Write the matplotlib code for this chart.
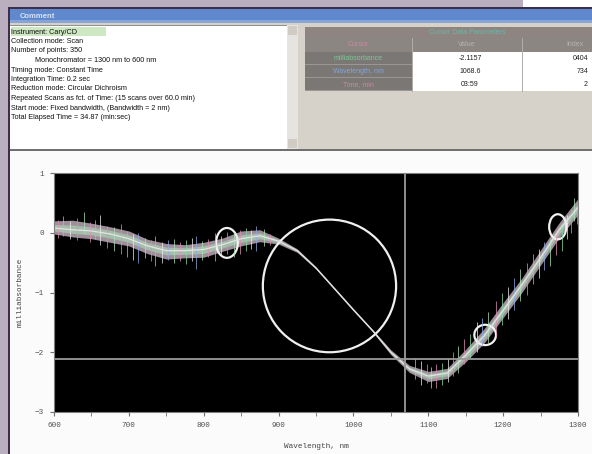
import matplotlib
matplotlib.use("Agg")
import matplotlib.pyplot as plt
from matplotlib.patches import Rectangle, Ellipse

# scan data (milliabsorbance vs wavelength)
wl = [600, 625, 650, 675, 700, 725, 750, 775, 800, 825, 850, 875, 900, 925,
      950, 975, 1000, 1025, 1050, 1075, 1100, 1125, 1150, 1175, 1200, 1225,
      1250, 1275, 1300]
mean = [0.08, 0.05, 0.03, -0.02, -0.1, -0.22, -0.3, -0.3, -0.28, -0.2, -0.1,
        -0.05, -0.14, -0.3, -0.59, -0.94, -1.29, -1.63, -2.0, -2.28, -2.4,
        -2.35, -2.05, -1.72, -1.3, -0.87, -0.42, 0.05, 0.42]
spread_up = [0.12, 0.16, 0.13, 0.12, 0.13, 0.11, 0.12, 0.1, 0.12, 0.11, 0.13,
             0.1, 0.05, 0.03, 0.02, 0.02, 0.02, 0.02, 0.04, 0.06, 0.08, 0.08,
             0.1, 0.12, 0.13, 0.11, 0.13, 0.12, 0.15]
spread_dn = [0.1, 0.12, 0.13, 0.14, 0.12, 0.13, 0.14, 0.12, 0.13, 0.11, 0.12,
             0.1, 0.05, 0.03, 0.02, 0.02, 0.02, 0.02, 0.04, 0.06, 0.09, 0.09,
             0.11, 0.12, 0.12, 0.13, 0.12, 0.13, 0.12]

# noise spikes: wavelength, top, bottom
spike_wl = [605, 612, 622, 631, 640, 648, 655, 662, 671, 680, 690, 698, 706,
            712, 721, 729, 735, 744, 752, 760, 768, 777, 785, 790, 798, 806,
            815, 823, 831, 840, 848, 856, 863, 870, 880, 888,
            1082, 1090, 1098, 1104, 1110, 1118, 1126, 1133, 1140, 1148, 1156,
            1165, 1172, 1180, 1190, 1198, 1207, 1215, 1223, 1232, 1240, 1248,
            1255, 1262, 1270, 1278, 1285, 1290, 1295, 1299]
spike_top = [0.22, 0.28, 0.2, 0.25, 0.35, 0.18, 0.22, 0.3, 0.12, 0.1, 0.15,
             0.02, -0.02, 0.0, -0.08, -0.12, -0.05, -0.15, -0.12, -0.1, -0.15,
             -0.12, -0.08, -0.05, -0.14, -0.1, 0.0, -0.06, 0.02, 0.0, 0.05,
             0.08, 0.05, 0.12, 0.06, -0.02,
             -2.1, -2.15, -2.2, -2.25, -2.2, -2.18, -2.1, -2.0, -1.9, -1.78,
             -1.7, -1.5, -1.42, -1.32, -1.15, -1.0, -0.9, -0.75, -0.6, -0.5,
             -0.35, -0.28, -0.15, -0.1, 0.05, 0.12, 0.3, 0.4, 0.58, 0.5]
spike_bot = [-0.08, -0.05, -0.1, -0.12, 0.0, -0.15, -0.1, -0.2, -0.25, -0.3,
             -0.35, -0.4, -0.45, -0.5, -0.42, -0.48, -0.55, -0.5, -0.45, -0.5,
             -0.48, -0.52, -0.47, -0.6, -0.45, -0.4, -0.48, -0.38, -0.35, -0.4,
             -0.35, -0.3, -0.28, -0.3, -0.22, -0.2,
             -2.45, -2.55, -2.52, -2.6, -2.6, -2.55, -2.5, -2.4, -2.35, -2.2,
             -2.1, -2.0, -1.9, -1.85, -1.75, -1.55, -1.45, -1.3, -1.15, -1.05,
             -0.85, -0.75, -0.62, -0.55, -0.38, -0.3, -0.1, 0.0, 0.2, 0.15]
spike_col = ["#d890b0", "#80d8a0", "#e8e8e8", "#90a8e0", "#a8e0b8"]

# highlighted regions (ellipses): centre x, centre y, width nm, height
circ_x = [968, 831, 1176, 1273]
circ_y = [-0.89, -0.17, -1.71, 0.1]
circ_w = [178, 29, 29, 23]
circ_h = [2.22, 0.5, 0.34, 0.42]

cursor_x = 1068.6
cursor_y = -2.1157

comment_lines = [
    "Instrument: Cary/CD",
    "Collection mode: Scan",
    "Number of points: 350",
    "            Monochromator = 1300 nm to 600 nm",
    "Timing mode: Constant Time",
    "Integration Time: 0.2 sec",
    "Reduction mode: Circular Dichroism",
    "Repeated Scans as fct. of Time: (15 scans over 60.0 min)",
    "Start mode: Fixed bandwidth, (Bandwidth = 2 nm)",
    "Total Elapsed Time = 34.87 (min:sec)",
]
row_labels = ["milliabsorbance", "Wavelength, nm", "Time, min"]
row_colors = ["#7cc896", "#86a6d8", "#c88aa8"]
values = ["-2.1157", "1068.6", "03:59"]
index_vals = ["0404", "734", "2"]

W, H = 592, 454
fig = plt.figure(figsize=(W / 100, H / 100), dpi=100, facecolor="white")

# window chrome drawn in pixel coordinates
bg = fig.add_axes([0, 0, 1, 1])
bg.set_xlim(0, W)
bg.set_ylim(H, 0)
bg.axis("off")

def box(x, y, w, h, c, z=1):
    bg.add_patch(Rectangle((x, y), w, h, facecolor=c, edgecolor="none", zorder=z))

box(0, 0, 523, 8, "#b9afbe")
box(0, 0, 8, H, "#b9afbe")
box(8, 7, W, 2, "#3d2f4a")
box(8, 7, 2, H, "#3d2f4a", 3)
box(10, 9, W, 14, "#5f89cc")
box(10, 20, W, 3, "#86a4d6")
bg.text(20, 16, "Comment", color="#d8e4f4", fontsize=5.5, weight="bold",
        va="center", family="Liberation Sans")
box(10, 23, W, 128, "#d6d2ca")
box(10, 25, 277, 124, "white", 2)
box(10, 25, 277, 1, "#909090", 3)
box(287, 25, 11, 124, "#e6e4e0", 2)
box(288, 26, 9, 9, "#d0ccc4", 3)
box(288, 139, 9, 9, "#d0ccc4", 3)
box(10, 149, W, 2, "#707070", 3)
box(10, 151, W, H, "#fbfbfb", 1)

# green highlight on the first line
box(11, 27, 95, 9, "#cfe8c4", 3)
for i, line in enumerate(comment_lines):
    bg.text(11, 32 + i * 9.5, line, fontsize=5.2, va="center",
            family="Liberation Sans", color="#101010", zorder=4)

# cursor data table
box(305, 27, W - 305, 11, "#8e8580", 2)
bg.text(467, 32.5, "Cursor Data Parameters", color="#6fb4aa", fontsize=5,
        ha="center", va="center", family="Liberation Sans", zorder=4)
box(305, 38, W - 305, 14, "#8b8682", 2)
for xs in [412, 522]:
    box(xs, 38, 1, 54, "#b0aca8", 4)
bg.text(358, 45, "Cursor", color="#c88aa0", fontsize=5, ha="center",
        va="center", family="Liberation Sans", zorder=5)
bg.text(467, 45, "Value", color="#b8b2ac", fontsize=5, ha="center",
        va="center", family="Liberation Sans", zorder=5)
bg.text(575, 45, "Index", color="#b8b2ac", fontsize=5, ha="center",
        va="center", family="Liberation Sans", zorder=5)
for i in range(3):
    y = 52 + i * 13
    box(305, y, 107, 13, "#7a7775", 2)
    box(305, y + 12, 107, 1, "#9a9694", 3)
    box(413, y, W - 413, 13, "white", 2)
    bg.text(358, y + 6.5, row_labels[i], color=row_colors[i], fontsize=5,
            ha="center", va="center", family="Liberation Sans", zorder=5)
    bg.text(470, y + 6.5, values[i], color="#202020", fontsize=5,
            ha="center", va="center", family="Liberation Sans", zorder=5)
    bg.text(588, y + 6.5, index_vals[i], color="#202020", fontsize=5,
            ha="right", va="center", family="Liberation Sans", zorder=5)

# the spectrum plot
ax = fig.add_axes([54 / W, 1 - 412 / H, 524 / W, 239 / H])
ax.set_facecolor("black")
hi = [m + s for m, s in zip(mean, spread_up)]
lo = [m - s for m, s in zip(mean, spread_dn)]
ax.fill_between(wl, lo, hi, color="#9d8e9a", lw=0)
hi2 = [m + 0.5 * s for m, s in zip(mean, spread_up)]
lo2 = [m - 0.5 * s for m, s in zip(mean, spread_dn)]
ax.fill_between(wl, lo2, hi2, color="#a9c9b0", alpha=0.8, lw=0)
for i, (sx, t, b) in enumerate(zip(spike_wl, spike_top, spike_bot)):
    ax.vlines(sx, b, t, color=spike_col[i % 5], lw=0.7, alpha=0.75)
ax.plot(wl, mean, color="#e6e2e6", lw=0.9)

ax.axvline(cursor_x, color="#9a9a9a", lw=1.3)
ax.axhline(cursor_y, color="#9a9a9a", lw=1.3)
for cx, cy, cw, ch in zip(circ_x, circ_y, circ_w, circ_h):
    ax.add_patch(Ellipse((cx, cy), cw, ch, fill=False, edgecolor="#f0f0f0", lw=1.6))

ax.set_xlim(600, 1300)
ax.set_ylim(-3, 1)
ax.set_xticks(range(600, 1301, 100))
ax.set_xticks(range(650, 1300, 100), minor=True)
ax.set_yticks([-3, -2, -1, 0, 1])
ax.tick_params(which="both", direction="out", length=3, color="#707070",
               labelsize=5.5, labelcolor="#505050", pad=4)
for lab in ax.get_xticklabels() + ax.get_yticklabels():
    lab.set_family("Liberation Mono")
for s in ax.spines.values():
    s.set_color("#808080")
ax.set_xlabel("Wavelength, nm", fontsize=5.5, family="Liberation Mono",
              color="#404040", labelpad=10)
ax.set_ylabel("milliabsorbance", fontsize=5.5, family="Liberation Mono",
              color="#404040", labelpad=8)

fig.savefig("out.png", dpi=100)
